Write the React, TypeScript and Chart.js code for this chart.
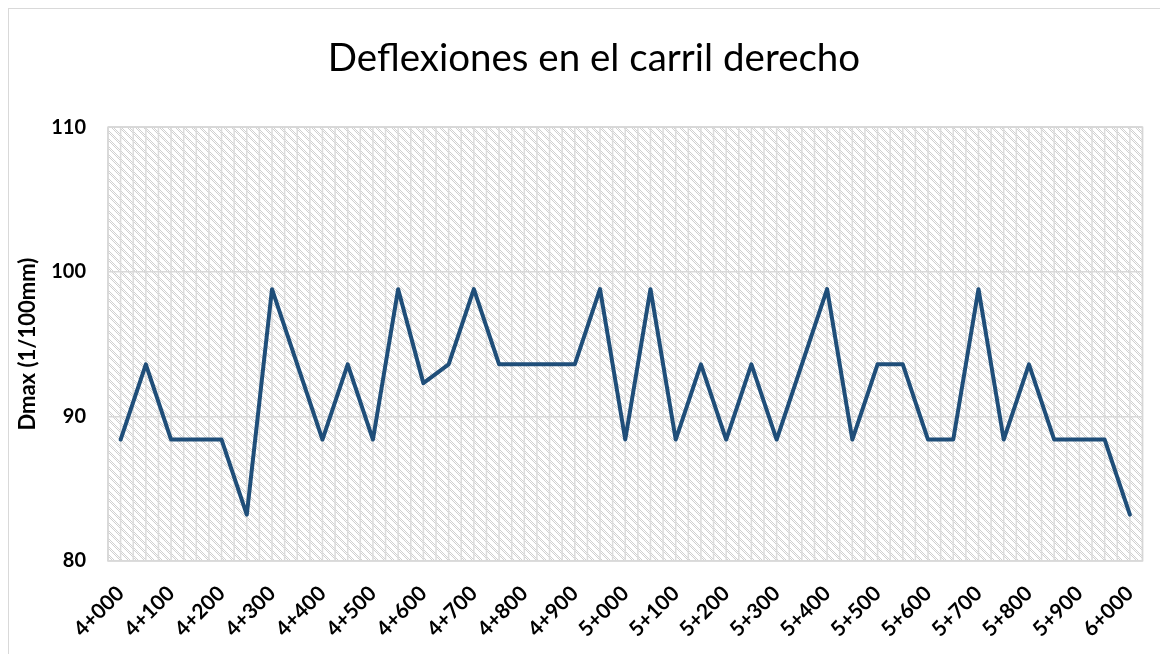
import React, { useEffect, useRef } from "react";
import { Chart, registerables } from "chart.js";

Chart.register(...registerables);

const stations: string[] = [
  "4+000", "4+050", "4+100", "4+150", "4+200", "4+250", "4+300", "4+350", "4+400", "4+450",
  "4+500", "4+550", "4+600", "4+650", "4+700", "4+750", "4+800", "4+850", "4+900", "4+950",
  "5+000", "5+050", "5+100", "5+150", "5+200", "5+250", "5+300", "5+350", "5+400", "5+450",
  "5+500", "5+550", "5+600", "5+650", "5+700", "5+750", "5+800", "5+850", "5+900", "5+950",
  "6+000",
];

const dmax: number[] = [
  88.4, 93.6, 88.4, 88.4, 88.4, 83.2, 98.8, 93.6, 88.4, 93.6,
  88.4, 98.8, 92.3, 93.6, 98.8, 93.6, 93.6, 93.6, 93.6, 98.8,
  88.4, 98.8, 88.4, 93.6, 88.4, 93.6, 88.4, 93.6, 98.8, 88.4,
  93.6, 93.6, 88.4, 88.4, 98.8, 88.4, 93.6, 88.4, 88.4, 88.4,
  83.2,
];

const yMin = 80;
const yMax = 110;
const yStep = 10;

const titleText = "Deflexiones en el carril derecho";
const yTitleText = "Dmax (1/100mm)";

function makePattern(ctx: CanvasRenderingContext2D): CanvasPattern | string {
  const tile = document.createElement("canvas");
  tile.width = 8;
  tile.height = 8;
  const t = tile.getContext("2d");
  if (!t) return "#efefef";
  t.fillStyle = "#ffffff";
  t.fillRect(0, 0, 8, 8);
  t.fillStyle = "#d0d0d0";
  for (let y = 0; y < 8; y++) {
    for (let x = 0; x < 8; x++) {
      const d = (x - y + 16) % 8;
      if (d < 4 && (x + y) % 2 === 0) t.fillRect(x, y, 1, 1);
    }
  }
  return ctx.createPattern(tile, "repeat") || "#efefef";
}

const plotBgPlugin = {
  id: "plotBg",
  beforeDraw(chart: any) {
    const { ctx, chartArea } = chart;
    if (!chartArea) return;
    const { left, right, top, bottom } = chartArea;
    ctx.save();
    ctx.fillStyle = makePattern(ctx);
    ctx.fillRect(left, top, right - left, bottom - top);
    const xs = chart.scales.x;
    const n = stations.length;
    const half = (xs.getPixelForValue(1) - xs.getPixelForValue(0)) / 2;
    ctx.strokeStyle = "#dcdcdc";
    ctx.lineWidth = 1.5;
    ctx.beginPath();
    for (let i = 0; i < n; i++) {
      const c = xs.getPixelForValue(i);
      const list = [c, c + half];
      if (i === 0) list.push(c - half);
      for (const px of list) {
        ctx.moveTo(px, top);
        ctx.lineTo(px, bottom);
      }
    }
    ctx.stroke();
    ctx.strokeStyle = "#d6d6d6";
    ctx.lineWidth = 1.5;
    ctx.strokeRect(left, top, right - left, bottom - top);
    ctx.restore();
  },
};

export default function App() {
  const ref = useRef<HTMLCanvasElement | null>(null);

  useEffect(() => {
    if (!ref.current) return;
    const chart = new Chart(ref.current, {
      type: "line",
      data: {
        labels: stations,
        datasets: [
          {
            label: "Dmax",
            data: dmax,
            borderColor: "#1F4E79",
            backgroundColor: "#1F4E79",
            borderWidth: 4,
            pointRadius: 0,
            tension: 0,
            borderJoinStyle: "round",
            borderCapStyle: "round",
          },
        ],
      },
      options: {
        animation: false,
        responsive: false,
        maintainAspectRatio: false,
        layout: { padding: { left: 36, right: 25, top: 0, bottom: 0 } },
        plugins: {
          legend: { display: false },
          tooltip: { enabled: false },
          title: {
            display: true,
            text: titleText,
            color: "#000000",
            font: { family: "Lato", size: 38.5, weight: "normal" },
            padding: { top: 26, bottom: 46 },
          },
        },
        scales: {
          x: {
            type: "category",
            offset: true,
            grid: { display: false, drawTicks: false },
            border: { display: false },
            ticks: {
              autoSkip: false,
              maxRotation: 45,
              minRotation: 45,
              padding: 20,
              color: "#000000",
              font: { family: "Lato", size: 21, weight: "bold" },
              callback: (_v: any, i: number) => (i % 2 === 0 ? stations[i] : ""),
            },
            afterFit: (s: any) => {
              s.height = 93;
            },
          },
          y: {
            min: yMin,
            max: yMax,
            grid: { color: "#d9d9d9", lineWidth: 1.5, drawTicks: false },
            border: { display: false },
            ticks: {
              stepSize: yStep,
              padding: 22,
              color: "#000000",
              font: { family: "Lato", size: 20, weight: "bold" },
            },
            title: {
              display: true,
              text: yTitleText,
              color: "#000000",
              font: { family: "Lato", size: 22, weight: "bold" },
              padding: { top: -30, bottom: 0 },
            },
            afterFit: (s: any) => {
              s.width = 63;
            },
          },
        },
      },
      plugins: [plotBgPlugin],
    });
    return () => chart.destroy();
  }, []);

  return (
    <div
      style={{
        width: 1159,
        height: 645,
        borderTop: "1px solid #d9d9d9",
        borderLeft: "1px solid #d9d9d9",
        background: "#ffffff",
      }}
    >
      <canvas ref={ref} width={1159} height={645} style={{ display: "block" }} />
    </div>
  );
}
